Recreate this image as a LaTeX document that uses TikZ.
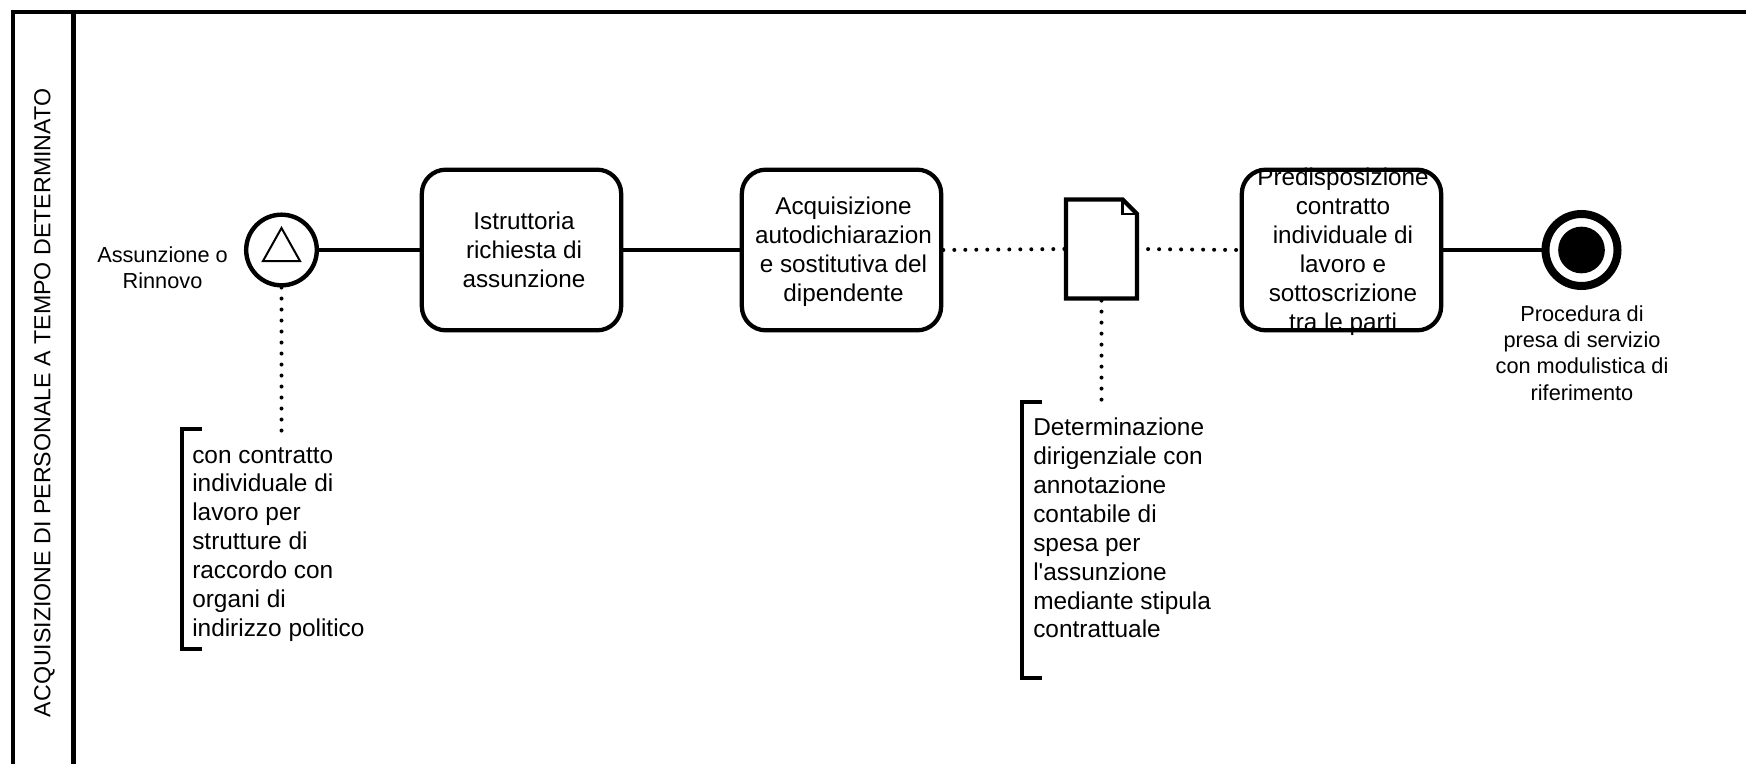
\documentclass[tikz,border=0pt]{standalone}
\usepackage{fontspec}
\setmainfont{Liberation Sans}
\newfontfamily\plainapos{Liberation Sans}
\tikzset{
  lane/.style={line width=3.4pt,line cap=butt,black},
  flow/.style={line width=2.8pt,black},
  assoc/.style={line width=3pt,line cap=round,dash pattern=on 0pt off 8.25pt,black},
  taskbox/.style={draw=black,line width=3.2pt,rounded corners=18pt,minimum width=149.5pt,minimum height=120.5pt,inner sep=0pt,fill=white},
  tasktext/.style={align=center,font=\fontsize{18.2}{21.7}\selectfont,inner sep=0pt},
  labeltext/.style={align=center,font=\fontsize{16.3}{19.8}\selectfont,inner sep=0pt},
  notetext/.style={align=left,anchor=west,font=\fontsize{18.3}{21.7}\selectfont,inner sep=0pt},
  bracket/.style={line width=3.2pt,line cap=butt,black},
  eventc/.style={circle,draw=black,fill=white,inner sep=0pt},
}
\begin{document}
\begin{tikzpicture}[x=0.75pt,y=-0.75pt]
\useasboundingbox (0,0) rectangle (1746,764);
\draw[lane] (1746,12) -- (13,12) -- (13,764);
\draw[lane] (73.5,12) -- (73.5,764);
\node[rotate=90,font=\fontsize{17.4}{21}\selectfont,inner sep=0pt] (title) at (44.5,403) {ACQUISIZIONE DI PERSONALE A TEMPO DETERMINATO};

\node[eventc,line width=3.3pt,minimum size=53pt] (start) at (281.5,250) {};
\coordinate (tA) at (281.5,228);
\coordinate (tB) at (263,261);
\coordinate (tC) at (300,261);
\draw[line width=1.5pt,line join=miter] (tA) -- (tB) -- (tC) -- cycle;
\node[labeltext] (startlabel) at (162.5,268) {Assunzione o\\Rinnovo};

\node[taskbox] (t1) at (521.5,250) {};
\node[tasktext] (t1text) at (524,250) {Istruttoria\\richiesta di\\assunzione};
\node[taskbox] (t2) at (841.5,250) {};
\node[tasktext] (t2text) at (843.5,251.5) {Acquisizione\\autodichiarazion\\e sostitutiva del\\dipendente};
\node[taskbox] (t3) at (1341.5,250) {};
\node[tasktext] (t3text) at (1343,251.5) {Predisposizione\\contratto\\individuale di\\lavoro e\\sottoscrizione\\tra le parti};

\node[eventc,line width=6pt,minimum size=54pt] (end) at (1581.5,250) {};
\node[circle,fill=black,inner sep=0pt,minimum size=35pt] (enddot) at (1581.5,250) {};
\node[labeltext] (endlabel) at (1582,353) {Procedura di\\presa di servizio\\con modulistica di\\riferimento};

\node[minimum width=53pt,minimum height=74pt,inner sep=0pt] (doc) at (1101.5,249) {};
\draw[line width=3.2pt,line join=miter,fill=white]
  (doc.north west) -- ([xshift=-11pt]doc.north east) -- ([yshift=-11pt]doc.north east) -- (doc.south east) -- (doc.south west) -- cycle;
\draw[line width=2pt,line join=miter]
  ([xshift=-11pt]doc.north east) -- ([xshift=-11pt,yshift=-11pt]doc.north east) -- ([yshift=-11pt]doc.north east);

\draw[flow] (start) -- (t1);
\draw[flow] (t1) -- (t2);
\draw[flow] (t3) -- (end);
\draw[assoc] (t2.east) -- (doc.west);
\draw[assoc] (doc.east) -- (t3.west);

\coordinate (a1top) at (281.5,431);
\coordinate (a2top) at (1101.5,401);
\draw[assoc] (start.south) -- (a1top);
\draw[assoc] (doc.south) ++(0,2) -- (a2top);

\coordinate (b1a) at (202,429); \coordinate (b1b) at (182,429);
\coordinate (b1c) at (182,649); \coordinate (b1d) at (202,649);
\draw[bracket] (b1a) -- (b1b) -- (b1c) -- (b1d);
\node[notetext] (n1) at (192,544.5) {con contratto\\individuale di\\lavoro per\\strutture di\\raccordo con\\organi di\\indirizzo politico};

\coordinate (b2a) at (1042,402); \coordinate (b2b) at (1022,402);
\coordinate (b2c) at (1022,678); \coordinate (b2d) at (1042,678);
\draw[bracket] (b2a) -- (b2b) -- (b2c) -- (b2d);
\node[notetext] (n2) at (1033,528) {Determinazione\\dirigenziale con\\annotazione\\contabile di\\spesa per\\{\plainapos l'}assunzione\\mediante stipula\\contrattuale};
\end{tikzpicture}
\end{document}
